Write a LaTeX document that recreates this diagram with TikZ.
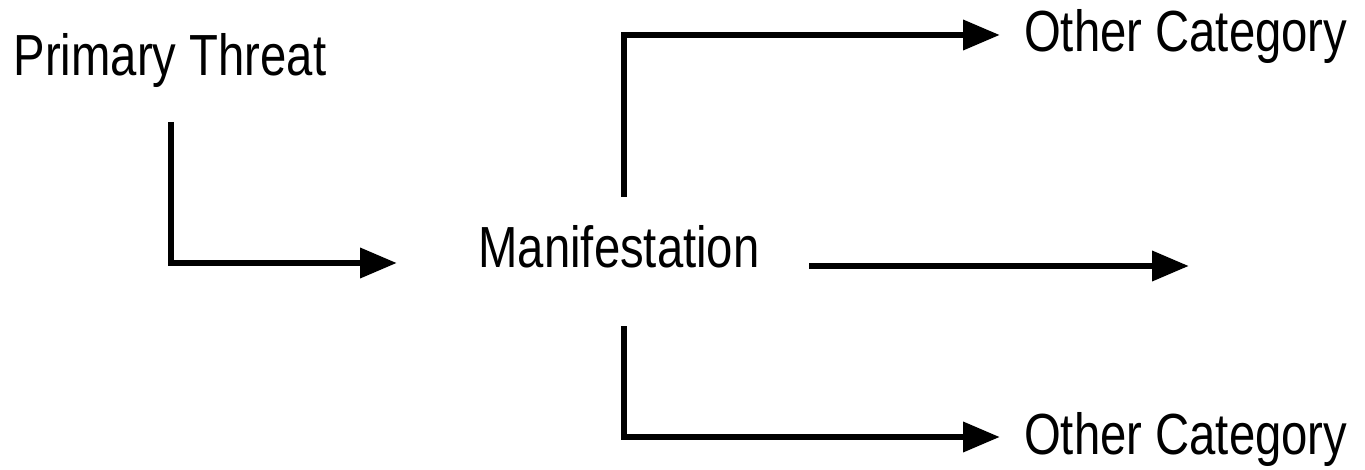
\documentclass[tikz,border=0pt]{standalone}
\usepackage{fontspec}
\setmainfont{Liberation Sans}[FakeStretch=0.815]
\usetikzlibrary{arrows.meta}
\begin{document}
\begin{tikzpicture}[x=1pt,y=-1pt,
  lbl/.style={inner sep=0pt, font=\fontsize{58}{62}\selectfont},
  arr/.style={line width=6.8pt, -{Triangle[length=37pt,width=29pt]}}]
\useasboundingbox (0,0) rectangle (1365,470);
\node[lbl, anchor=base] (pt) at (170,76) {Primary Threat};
\node[lbl, anchor=base] (man) at (619,268) {Manifestation};
\node[lbl, anchor=base west] (oc1) at (1024,52) {Other Category};
\node[lbl, anchor=base west] (oc2) at (1024,454) {Other Category};
\coordinate (a1) at (171,122);
\coordinate (a2) at (397,263);
\coordinate (t1) at (624,197);
\coordinate (t2) at (1000,35);
\coordinate (m1) at (809,266);
\coordinate (m2) at (1189,266);
\coordinate (b1) at (624,326);
\coordinate (b2) at (1000,437);
\draw[arr] (a1) |- (a2);
\draw[arr] (t1) |- (t2);
\draw[arr] (m1) -- (m2);
\draw[arr] (b1) |- (b2);
\end{tikzpicture}
\end{document}
